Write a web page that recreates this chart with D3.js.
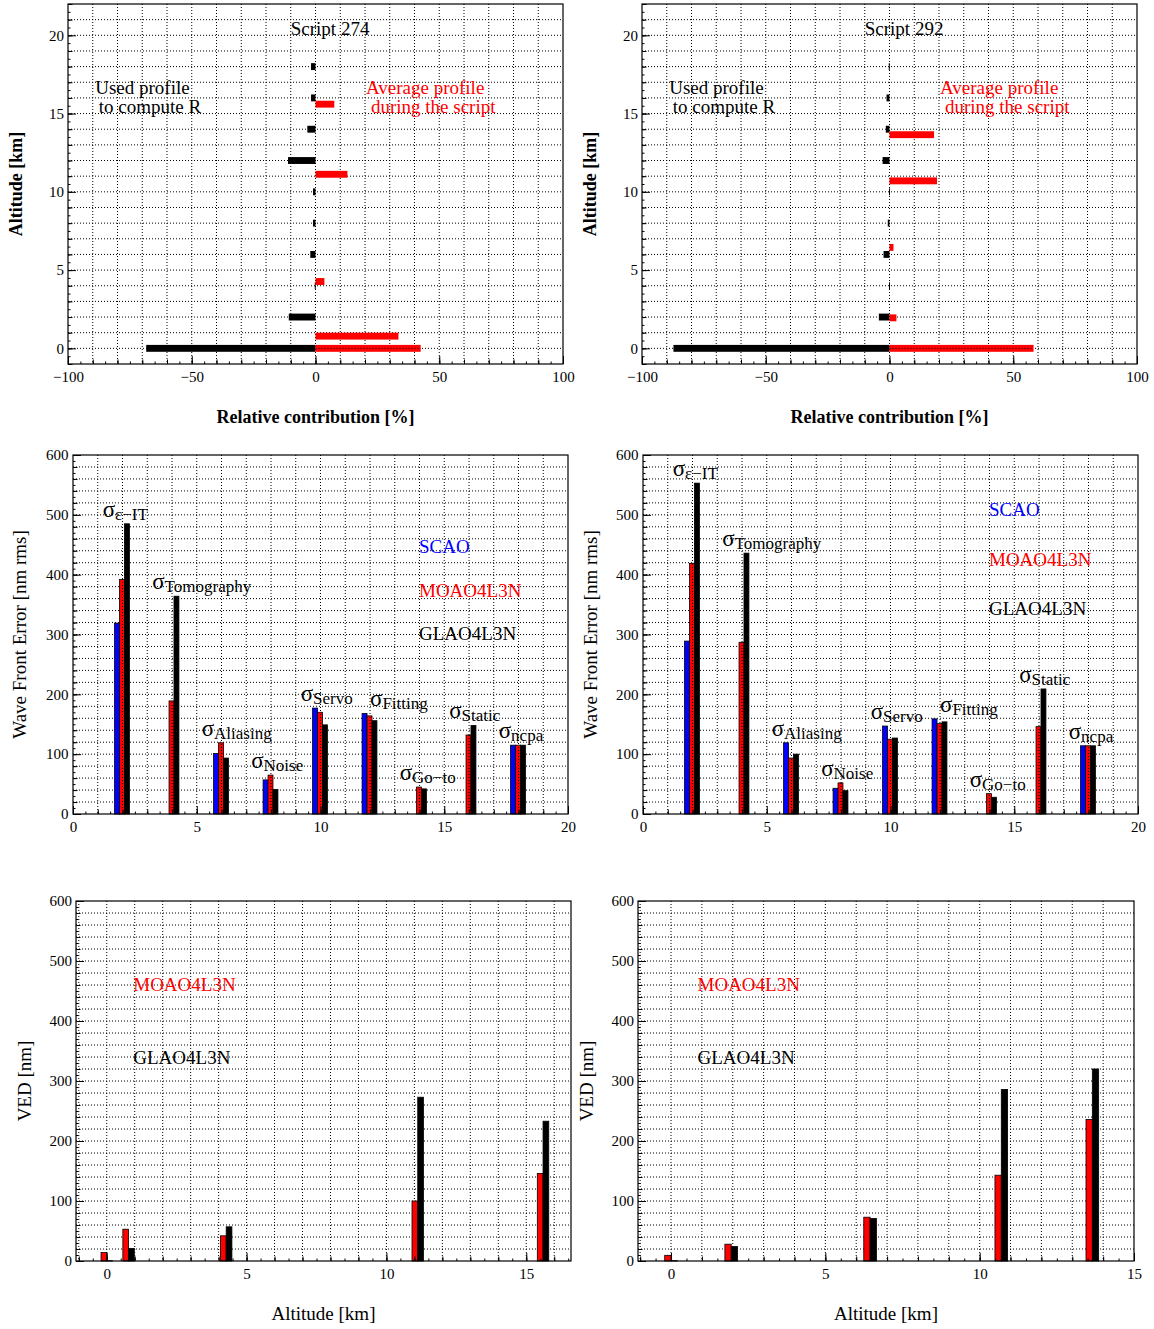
<!DOCTYPE html>
<html><head><meta charset="utf-8">
<script src="https://cdn.jsdelivr.net/npm/d3@7"></script>
<style>body{margin:0;background:#fff}svg{display:block}</style>
</head><body><svg id="c" width="1154" height="1329"></svg>
<script>
// ---------------- DATA ----------------
// Top: relative contribution of turbulent layers [%]
const usedAltitudes = [0, 2, 4, 6, 8, 10, 12, 14, 16, 18];
const used274 = [-68.4, -10.8, -0.3, -2.1, -1.0, -1.0, -11.1, -3.3, -1.8, -1.8];
const used292 = [-87.3, -4.3, -0.2, -2.4, -0.7, -0.2, -2.8, -1.5, -1.2, -0.3];
const avgAltitudes274 = [0, 0.78, 4.27, 11.12, 15.6];
const avg274 = [42.5, 33.5, 3.6, 12.9, 7.6];
const avgAltitudes292 = [0, 1.95, 6.45, 10.7, 13.65];
const avg292 = [58.2, 2.8, 1.6, 19.2, 18.0];

// Middle: error budget [nm rms]
const errorTerms = ["ε−IT", "Tomography", "Aliasing", "Noise", "Servo", "Fitting", "Go−to", "Static", "ncpa"];
const errorX = [2, 4, 6, 8, 10, 12, 14, 16, 18];
const errorLabelX = [1.2, 3.2, 5.2, 7.2, 9.2, 12.0, 13.2, 15.2, 17.2];
const scao274 = [319, 0, 101, 57, 177, 168, 0, 0, 115];
const moao274 = [392, 189, 119, 65, 170, 164, 45, 132, 115];
const glao274 = [485, 364, 93.5, 41, 149, 156, 42, 148, 115];
const scao292 = [289, 0, 119, 43, 147, 159, 0, 0, 114];
const moao292 = [419, 287, 93.5, 52, 125, 151, 34, 146, 114];
const glao292 = [553, 436, 100, 39, 127, 154, 28, 209, 114];

// Bottom: VED [nm] per layer altitude
const vedMoao274 = [14, 53, 42, 100, 146];
const vedGlao274 = [0.5, 21, 57, 273, 233];
const vedMoao292 = [9.5, 28, 73, 143, 236];
const vedGlao292 = [0.5, 24, 71, 286, 320];

const xTicksTop = [-100, -50, 0, 50, 100];
const yTicksTop = [0, 5, 10, 15, 20];
const xTicksMid = [0, 5, 10, 15, 20];
const yTicksVal = [0, 100, 200, 300, 400, 500, 600];
const xTicksBot = [0, 5, 10, 15];

// ---------------- DRAWING ----------------
const FONT = '"Liberation Serif","Times New Roman",Times,serif';
const RED = "#ff0000", BLUE = "#0000ff", BLACK = "#000000";
const svg = d3.select("#c");
svg.append("rect").attr("width", 1154).attr("height", 1329).attr("fill", "#fff");

function rng(a, b, step) {
  const out = [];
  for (let i = Math.ceil(a / step - 1e-9); i * step <= b + 1e-9; i++) out.push(+(i * step).toFixed(6));
  return out;
}
function onGrid(v, step) { return Math.abs(v / step - Math.round(v / step)) < 1e-6; }

function makePanel(p) {
  const x = d3.scaleLinear().domain(p.xDomain).range([p.left, p.right]);
  const y = d3.scaleLinear().domain(p.yDomain).range([p.bottom, p.top]);
  const g = svg.append("g");
  const grid = g.append("g").attr("stroke", "#000").attr("stroke-width", 1).attr("stroke-dasharray", "1,2");
  rng(p.xDomain[0], p.xDomain[1], p.xGrid).filter(v => Math.abs(x(v) - p.left) > 2 && Math.abs(x(v) - p.right) > 2)
    .forEach(v => grid.append("line").attr("x1", x(v)).attr("x2", x(v)).attr("y1", p.top).attr("y2", p.bottom));
  rng(p.yDomain[0], p.yDomain[1], p.yGrid).filter(v => Math.abs(y(v) - p.top) > 2 && Math.abs(y(v) - p.bottom) > 2)
    .forEach(v => grid.append("line").attr("y1", y(v)).attr("y2", y(v)).attr("x1", p.left).attr("x2", p.right));
  const bars = g.append("g");
  const over = g.append("g");
  return { x, y, g, bars, over, p };
}

function finishPanel(P) {
  const { x, y, g, p } = P;
  const axG = g.append("g");
  const levels = [[p.xMinor, p.yMinor, -2.5], [p.xGrid, p.yGrid, -4.5]];
  levels.forEach(([sx, sy, len]) => {
    if (sx) axG.append("g").attr("transform", `translate(0,${p.bottom})`)
      .call(d3.axisBottom(x).tickValues(rng(p.xDomain[0], p.xDomain[1], sx)).tickSizeInner(len).tickSizeOuter(0).tickFormat(""));
    if (sy) axG.append("g").attr("transform", `translate(${p.left},0)`)
      .call(d3.axisLeft(y).tickValues(rng(p.yDomain[0], p.yDomain[1], sy)).tickSizeInner(len).tickSizeOuter(0).tickFormat(""));
  });
  axG.append("g").attr("transform", `translate(0,${p.bottom})`)
    .call(d3.axisBottom(x).tickValues(p.xTicks).tickSizeInner(-8).tickSizeOuter(0).tickPadding(p.xPad).tickFormat(d3.format("d")));
  axG.append("g").attr("transform", `translate(${p.left},0)`)
    .call(d3.axisLeft(y).tickValues(p.yTicks).tickSizeInner(-8).tickSizeOuter(0).tickPadding(p.yPad).tickFormat(d3.format("d")));
  axG.selectAll(".domain").remove();
  axG.selectAll(".tick line").attr("stroke", "#000").attr("stroke-width", 1);
  axG.selectAll("g").attr("font-family", FONT).attr("font-size", 15);
  axG.selectAll(".tick text").attr("fill", "#000");
  g.append("rect").attr("x", p.left).attr("y", p.top).attr("width", p.right - p.left).attr("height", p.bottom - p.top)
    .attr("fill", "none").attr("stroke", "#000").attr("stroke-width", 1.2);
  if (p.xTitle) g.append("text").attr("x", (p.left + p.right) / 2).attr("y", p.xTitleY).attr("text-anchor", "middle")
    .attr("font-family", FONT).attr("font-size", p.titleSize).attr("font-weight", p.titleWeight).text(p.xTitle);
  if (p.yTitle) g.append("text").attr("transform", `translate(${p.yTitleX},${(p.top + p.bottom) / 2}) rotate(-90)`)
    .attr("text-anchor", "middle").attr("font-family", FONT).attr("font-size", p.titleSize).attr("font-weight", p.titleWeight).text(p.yTitle);
}

function label(P, xv, yv, txt, color, size) {
  P.g.append("text").attr("x", P.x(xv)).attr("y", P.y(yv)).attr("font-family", FONT)
    .attr("font-size", size || 19).attr("fill", color || "#000").text(txt);
}

function topPanel(left, right, usedVals, avgAlts, avgVals, title, yTitleX) {
  const cfg = { left, right, top: 4, bottom: 364, xDomain: [-100, 100], yDomain: [-1, 22],
    xGrid: 10, yGrid: 1, xMinor: 5, yMinor: 0.5, xTicks: xTicksTop, yTicks: yTicksTop, xPad: 7.5, yPad: 4,
    xTitle: "Relative contribution [%]", xTitleY: 423, yTitle: "Altitude [km]", yTitleX,
    titleSize: 18, titleWeight: "bold" };
  const P = makePanel(cfg);
  const { x, y } = P;
  const half = 0.22;
  P.bars.selectAll("rect.used").data(usedAltitudes.map((a, i) => ({ a, v: usedVals[i] }))).join("rect").attr("class", "used")
    .attr("x", d => x(Math.min(0, d.v))).attr("width", d => Math.max(1, Math.abs(x(d.v) - x(0))))
    .attr("y", d => y(d.a + half)).attr("height", d => y(d.a - half) - y(d.a + half)).attr("fill", BLACK);
  P.bars.selectAll("rect.avg").data(avgAlts.map((a, i) => ({ a, v: avgVals[i] }))).join("rect").attr("class", "avg")
    .attr("x", d => x(Math.min(0, d.v))).attr("width", d => Math.abs(x(d.v) - x(0)))
    .attr("y", d => y(d.a + half)).attr("height", d => y(d.a - half) - y(d.a + half)).attr("fill", RED);
  avgAlts.forEach((a, i) => {
    if (onGrid(a, 1)) P.over.append("line").attr("x1", x(0)).attr("x2", x(avgVals[i])).attr("y1", y(a)).attr("y2", y(a))
      .attr("stroke", "#000").attr("stroke-dasharray", "1,2");
  });
  finishPanel(P);
  label(P, -10, 20, title);
  label(P, -89, 16.25, "Used profile");
  label(P, -87.6, 15.04, "to compute R");
  label(P, 20.4, 16.25, "Average profile", RED);
  label(P, 22.4, 15.04, "during the script", RED);
}

function midPanel(left, right, scao, moao, glao, yTitleX, legY) {
  const cfg = { left, right, top: 455, bottom: 814, xDomain: [0, 20], yDomain: [0, 600],
    xGrid: 1, yGrid: 20, xMinor: 0.5, yMinor: 10, xTicks: xTicksMid, yTicks: yTicksVal, xPad: 7.5, yPad: 4.5,
    yTitle: "Wave Front Error [nm rms]", yTitleX, titleSize: 19, titleWeight: "normal" };
  const P = makePanel(cfg);
  const { x, y } = P;
  const w = 0.2;
  const series = [[scao, BLUE, -0.22], [moao, RED, -0.02], [glao, BLACK, 0.18]];
  series.forEach(([vals, col, off]) => {
    P.bars.append("g").selectAll("rect").data(errorX.map((c, i) => ({ c: c + off, v: vals[i] }))).join("rect")
      .attr("x", d => x(d.c - w / 2)).attr("width", d => x(d.c + w / 2) - x(d.c - w / 2))
      .attr("y", d => y(d.v)).attr("height", d => y(0) - y(d.v))
      .attr("fill", col).attr("stroke", "#000").attr("stroke-width", 0.8);
  });
  errorX.forEach((c, i) => {
    if (onGrid(c, 1)) P.over.append("line").attr("x1", x(c)).attr("x2", x(c)).attr("y1", y(0)).attr("y2", y(moao[i]))
      .attr("stroke", "#000").attr("stroke-dasharray", "1,2");
  });
  errorTerms.forEach((t, i) => {
    const top = Math.max(scao[i], moao[i], glao[i]);
    const tx = P.g.append("text").attr("x", x(errorLabelX[i])).attr("y", y(top) - 7)
      .attr("font-family", FONT).attr("fill", "#000");
    tx.append("tspan").attr("font-size", 23).text("σ");
    tx.append("tspan").attr("font-size", 17).attr("dy", 3).text(t);
  });
  finishPanel(P);
  label(P, 13.98, legY[0], "SCAO", BLUE);
  label(P, 13.98, legY[1], "MOAO4L3N", RED);
  label(P, 13.98, legY[2], "GLAO4L3N", BLACK);
}

function botPanel(left, right, xDomain, alts, moao, glao, yTitleX) {
  const cfg = { left, right, top: 901, bottom: 1261, xDomain, yDomain: [0, 600],
    xGrid: 1, yGrid: 20, xMinor: 0.5, yMinor: 10, xTicks: xTicksBot, yTicks: yTicksVal, xPad: 7.5, yPad: 4,
    xTitle: "Altitude [km]", xTitleY: 1320, yTitle: "VED [nm]", yTitleX, titleSize: 19, titleWeight: "normal" };
  const P = makePanel(cfg);
  const { x, y } = P;
  const w = 0.205;
  [[moao, RED, -1], [glao, BLACK, 0]].forEach(([vals, col, k]) => {
    P.bars.append("g").selectAll("rect").data(alts.map((a, i) => ({ a, v: vals[i] }))).join("rect")
      .attr("x", d => x(d.a + k * w)).attr("width", d => x(d.a + (k + 1) * w) - x(d.a + k * w))
      .attr("y", d => y(d.v)).attr("height", d => y(0) - y(d.v))
      .attr("fill", col).attr("stroke", "#000").attr("stroke-width", 0.8);
  });
  finishPanel(P);
  const x0 = x.invert(x(0) + 26.5);
  label(P, x0, 450, "MOAO4L3N", RED);
  label(P, x0, 329, "GLAO4L3N", BLACK);
}

topPanel(68, 563, used274, avgAltitudes274, avg274, "Script 274", 22);
topPanel(642, 1137, used292, avgAltitudes292, avg292, "Script 292", 596);
midPanel(73, 568, scao274, moao274, glao274, 26, [436, 363, 291]);
midPanel(643, 1138, scao292, moao292, glao292, 597, [498, 414.5, 332.6]);
botPanel(76, 571, [-1.1, 16.6], avgAltitudes274, vedMoao274, vedGlao274, 31);
botPanel(638, 1134, [-1.07, 15], avgAltitudes292, vedMoao292, vedGlao292, 593);
</script>
</body></html>
